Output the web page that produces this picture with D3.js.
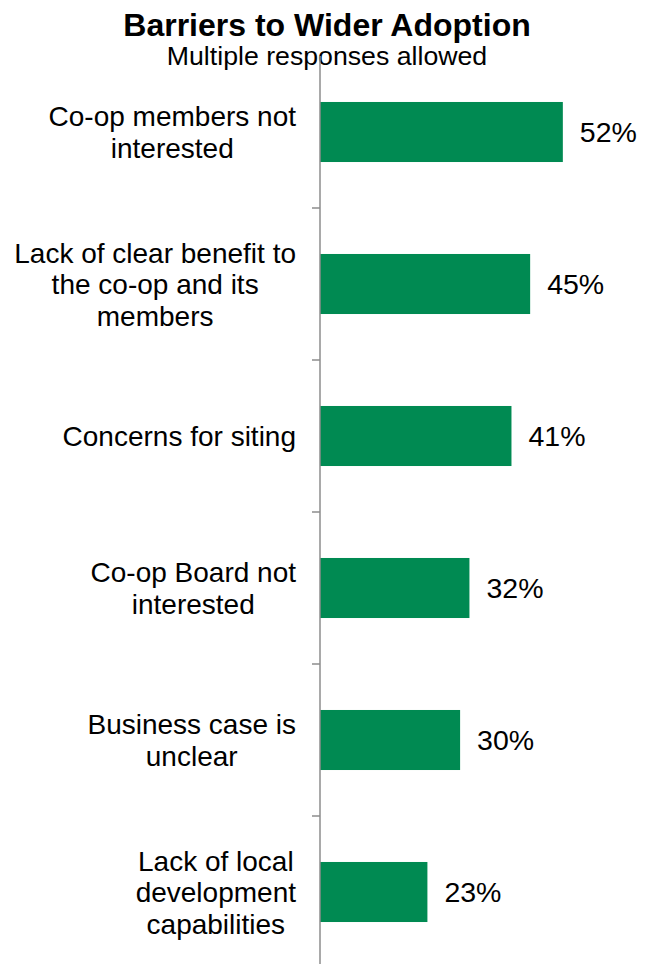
<!DOCTYPE html>
<html>
<head>
<meta charset="utf-8">
<script src="https://cdn.jsdelivr.net/npm/d3@7"></script>
<style>
  body { margin: 0; background: #fff; }
  svg { display: block; font-family: Arial, "Liberation Sans", sans-serif; }
</style>
</head>
<body>
<svg id="chart"></svg>
<script>
// chart data
var categories = [
    ["Co-op members not", "interested"],
    ["Lack of clear benefit to", "the co-op and its", "members"],
    ["Concerns for siting"],
    ["Co-op Board not", "interested"],
    ["Business case is", "unclear"],
    ["Lack of local", "development", "capabilities"]
];
var values = [52, 45, 41, 32, 30, 23];
var valueLabels = ["52%", "45%", "41%", "32%", "30%", "23%"];

var width = 650;
var height = 964;
var axisX = 320;

var svg = d3.select("#chart")
        .attr("width", width)
        .attr("height", height);

// title
svg.append("text")
    .attr("x", 327)
    .attr("y", 36)
    .attr("text-anchor", "middle")
    .attr("font-size", 32)
    .attr("font-weight", "bold")
    .text("Barriers to Wider Adoption");

svg.append("text")
    .attr("x", 327)
    .attr("y", 65)
    .attr("text-anchor", "middle")
    .attr("font-size", 26.7)
    .text("Multiple responses allowed");

var idx = d3.range(values.length);

var yScale = d3.scaleBand()
        .domain(idx)
        .range([56, 968])
        .paddingInner(0.605)
        .paddingOuter(0.3025);

var xScale = d3.scaleLinear()
        .domain([0, 100])
        .range([axisX, axisX + 467]);

// bars
svg.selectAll("rect.bar")
    .data(idx)
    .enter()
    .append("rect")
    .attr("class", "bar")
    .attr("x", xScale(0))
    .attr("y", function(i) { return yScale(i); })
    .attr("width", function(i) { return xScale(values[i]) - xScale(0); })
    .attr("height", yScale.bandwidth())
    .attr("fill", "#008A52");

// value labels
svg.selectAll("text.val")
    .data(idx)
    .enter()
    .append("text")
    .attr("class", "val")
    .attr("x", function(i) { return xScale(values[i]) + 17; })
    .attr("y", function(i) { return yScale(i) + yScale.bandwidth() / 2; })
    .attr("dy", "0.36em")
    .attr("font-size", 28.5)
    .text(function(i) { return valueLabels[i]; });

// category labels (multi-line, lines centred on each other, block right aligned)
var lineH = 31.5;
var labels = svg.selectAll("text.cat")
    .data(idx)
    .enter()
    .append("text")
    .attr("class", "cat")
    .attr("text-anchor", "middle")
    .attr("font-size", 28);

labels.each(function(i) {
    var lines = categories[i];
    var cy = yScale(i) + yScale.bandwidth() / 2;
    var top = cy - (lines.length - 1) * lineH / 2;
    var t = d3.select(this);
    var spans = lines.map(function(l, k) {
        return t.append("tspan")
            .attr("y", top + k * lineH)
            .attr("dy", "0.36em")
            .text(l);
    });
    var maxW = d3.max(spans, function(s) { return s.node().getComputedTextLength(); });
    spans.forEach(function(s) { s.attr("x", 296 - maxW / 2); });
});

// axis with ticks at category boundaries
var step = yScale.step();
var bounds = d3.range(1, values.length).map(function(k) { return 56 + k * step; });

svg.append("line")
    .attr("x1", axisX).attr("x2", axisX)
    .attr("y1", 56).attr("y2", 968)
    .attr("stroke", "#8c8c8c")
    .attr("stroke-width", 1.5);

svg.selectAll("line.tick")
    .data(bounds)
    .enter()
    .append("line")
    .attr("class", "tick")
    .attr("x1", axisX - 8).attr("x2", axisX)
    .attr("y1", function(d) { return d; })
    .attr("y2", function(d) { return d; })
    .attr("stroke", "#8c8c8c")
    .attr("stroke-width", 1.5);
</script>
</body>
</html>
